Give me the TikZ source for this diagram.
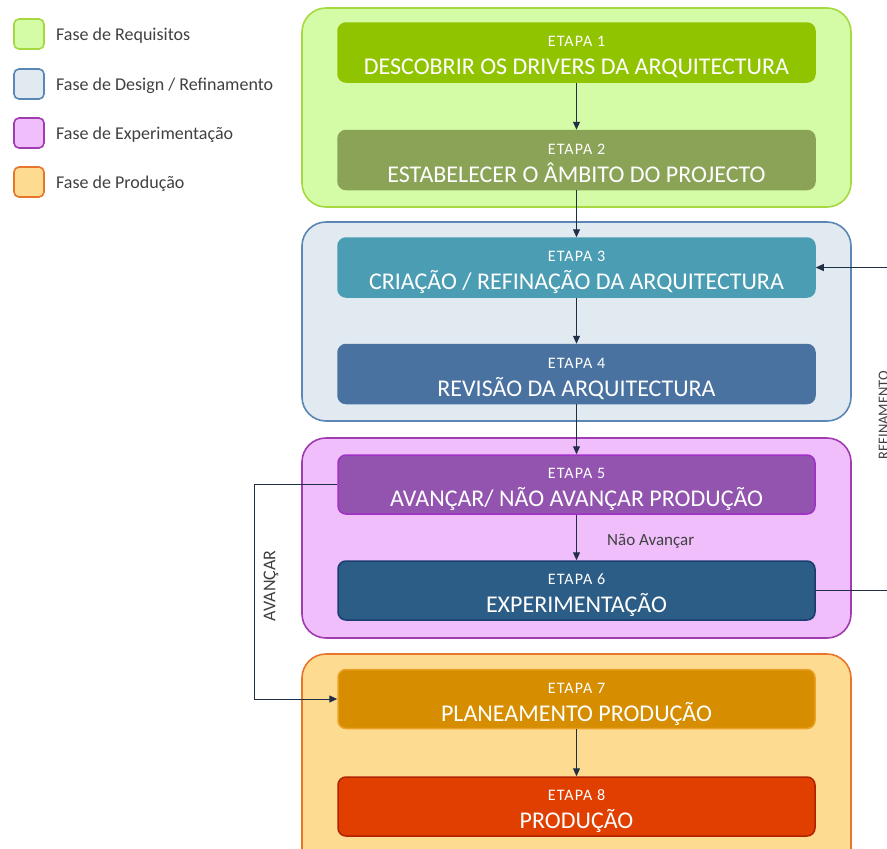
\documentclass[tikz,border=0pt]{standalone}
\usepackage{fontspec}
\setmainfont{Carlito}
\usetikzlibrary{arrows.meta,positioning}

\definecolor{reqfill}{HTML}{D4FBA6}
\definecolor{reqline}{HTML}{A6D940}
\definecolor{desfill}{HTML}{E1E9F1}
\definecolor{desline}{HTML}{5B86B6}
\definecolor{expfill}{HTML}{EFBEFB}
\definecolor{expline}{HTML}{A03CB0}
\definecolor{prodfill}{HTML}{FDDC92}
\definecolor{prodline}{HTML}{E8762A}
\definecolor{sone}{HTML}{91C400}
\definecolor{stwo}{HTML}{8BA357}
\definecolor{sthree}{HTML}{4B9DB4}
\definecolor{sfour}{HTML}{4A72A0}
\definecolor{sfive}{HTML}{9254AE}
\definecolor{sfiveline}{HTML}{A030C8}
\definecolor{ssix}{HTML}{2C5D86}
\definecolor{ssixline}{HTML}{1A3C70}
\definecolor{sseven}{HTML}{D68E00}
\definecolor{ssevenline}{HTML}{ECA124}
\definecolor{seight}{HTML}{E03F00}
\definecolor{seightline}{HTML}{B02200}
\definecolor{wire}{HTML}{1F2F45}
\definecolor{legtext}{HTML}{404040}

\tikzset{
  phase/.style={rounded corners=24pt, line width=1.6pt},
  stage/.style={rounded corners=8pt, line width=1.5pt, minimum width=477pt,
    minimum height=59pt, inner sep=0pt},
  stagehead/.style={anchor=base, text=white, inner sep=0pt,
    font=\fontsize{16}{18}\selectfont\addfontfeatures{LetterSpace=7}},
  stagetitle/.style={anchor=base, text=white, inner sep=0pt,
    font=\fontsize{24}{28}\selectfont},
  legbox/.style={rounded corners=5pt, line width=1.6pt, minimum width=30pt,
    minimum height=30pt, inner sep=0pt},
  legtxt/.style={anchor=base west, text=legtext, inner sep=0pt,
    font=\fontsize{18}{20}\selectfont},
  flow/.style={draw=wire, line width=1pt, -{Triangle[length=8pt,width=7pt]}},
  wirelabel/.style={text=legtext, inner sep=0pt, font=\fontsize{17}{19}\selectfont}
}

% stage box with its heading and title: name, y, fill, border, number, title
\newcommand{\stagebox}[6]{%
  \node[stage, fill=#3, draw=#4] (#1) at (576.5,#2) {};
  \node[stagehead] (#1h) at ([yshift=5.8pt]#1.center) {ETAPA #5};
  \node[stagetitle] (#1t) at ([yshift=-22pt]#1.center) {#6};
}

\begin{document}
\begin{tikzpicture}[x=1pt,y=-1pt]
\clip (0,0) rectangle (887,849);

% phase backgrounds
\draw[phase, fill=reqfill, draw=reqline] (302,8) rectangle (851,207);
\draw[phase, fill=desfill, draw=desline] (302,222) rectangle (851,421);
\draw[phase, fill=expfill, draw=expline] (302,438) rectangle (851,638);
\draw[phase, fill=prodfill, draw=prodline] (302,654) rectangle (851,880);

% stages
\stagebox{e1}{52.5}{sone}{sone}{1}{DESCOBRIR OS DRIVERS DA ARQUITECTURA}
\stagebox{e2}{160}{stwo}{stwo}{2}{ESTABELECER O ÂMBITO DO PROJECTO}
\stagebox{e3}{267.5}{sthree}{sthree}{3}{CRIAÇÃO / REFINAÇÃO DA ARQUITECTURA}
\stagebox{e4}{374}{sfour}{sfour}{4}{REVISÃO DA ARQUITECTURA}
\stagebox{e5}{484.5}{sfive}{sfiveline}{5}{AVANÇAR/ NÃO AVANÇAR PRODUÇÃO}
\stagebox{e6}{590.5}{ssix}{ssixline}{6}{EXPERIMENTAÇÃO}
\stagebox{e7}{699}{sseven}{ssevenline}{7}{PLANEAMENTO PRODUÇÃO}
\stagebox{e8}{806.5}{seight}{seightline}{8}{PRODUÇÃO}

% main flow
\draw[flow] (e1) -- (e2);
\draw[flow] (e2) -- (e3);
\draw[flow] (e3) -- (e4);
\draw[flow] (e4) -- (e5);
\draw[flow] (e5) -- (e6);
\node[wirelabel, anchor=base west] (nav) at (607,545) {Não Avançar};
\draw[flow] (e7) -- (e8);

% refinement loop back to stage 3
\coordinate (rb) at (893,590.5);
\coordinate (rt) at (893,267.5);
\draw[flow] (e6.east) -- (rb) -- (rt) -- (e3.east);
\node[wirelabel, rotate=90, font=\fontsize{14.5}{16}\selectfont] (reftxt) at (883.5,415) {REFINAMENTO};

% go-ahead path to production planning
\coordinate (at) at (254,484.5);
\coordinate (ab) at (254,699);
\draw[flow] (e5.west) -- (at) -- (ab) -- (e7.west);
\node[wirelabel, rotate=90, font=\fontsize{18}{20}\selectfont] (avtxt) at (271,586) {AVANÇAR};

% legend
\node[legbox, fill=reqfill, draw=reqline] (l1) at (29,34) {};
\node[legbox, fill=desfill, draw=desline] (l2) at (29,84) {};
\node[legbox, fill=expfill, draw=expline] (l3) at (29,133) {};
\node[legbox, fill=prodfill, draw=prodline] (l4) at (29,182) {};
\node[legtxt] (t1) at (56,40) {Fase de Requisitos};
\node[legtxt] (t2) at (56,90) {Fase de Design / Refinamento};
\node[legtxt] (t3) at (56,139) {Fase de Experimentação};
\node[legtxt] (t4) at (56,188) {Fase de Produção};
\end{tikzpicture}
\end{document}
